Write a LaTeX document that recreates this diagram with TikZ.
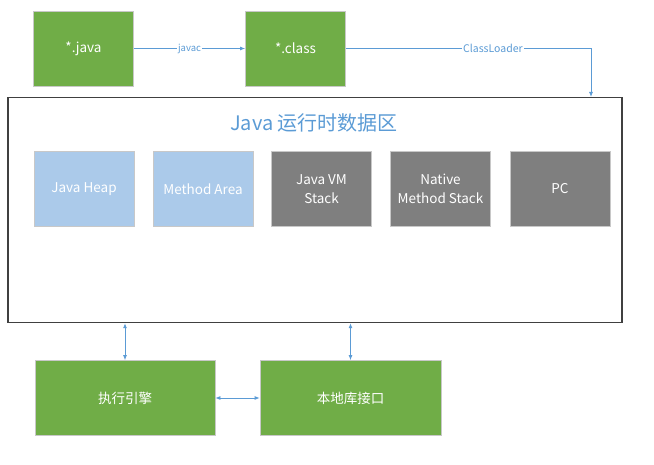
\documentclass[tikz,border=0pt]{standalone}
\usepackage{fontspec}
\setmainfont{Noto Sans CJK SC}
\usetikzlibrary{arrows.meta}
\definecolor{grn}{HTML}{70AD47}
\definecolor{lblue}{HTML}{ABCAEA}
\definecolor{gry}{HTML}{7F7F7F}
\definecolor{arr}{HTML}{5B9BD5}
\definecolor{frm}{HTML}{404040}
\definecolor{bord}{HTML}{C8C8C8}
\tikzset{
  box/.style={draw=bord, line width=0.8pt, minimum width=100pt, minimum height=75pt, inner sep=0pt, text=white, font=\fontsize{13.5}{19}\selectfont, align=center},
  gbox/.style={box, fill=grn},
  bbox/.style={box, fill=lblue},
  dbox/.style={box, fill=gry},
  conn/.style={draw=arr, line width=0.8pt, -{Latex[length=5pt,width=4pt]}},
  biconn/.style={draw=arr, line width=0.8pt, {Latex[length=5pt,width=4pt]}-{Latex[length=5pt,width=4pt]}},
  lbl/.style={fill=white, text=arr, inner sep=1pt}
}
\begin{document}
\begin{tikzpicture}[x=1pt,y=-1pt]
\useasboundingbox (0,0) rectangle (654,465);
\node[gbox] (java) at (83.5,48.5) {*.java};
\node[gbox] (class) at (295.5,48.5) {*.class};
\node[draw=frm, line width=1.5pt, minimum width=614pt, minimum height=225pt, inner sep=0pt] (frame) at (315,210) {};
\node[text=arr, font=\fontsize{20}{24}\selectfont] (title) at (314,123) {Java 运行时数据区};
\node[bbox] (heap) at (84,189) {Java Heap};
\node[bbox] (method) at (203,189) {Method Area};
\node[dbox] (vmstack) at (321.5,189) {Java VM\\Stack};
\node[dbox] (native) at (440.5,189) {Native\\Method Stack};
\node[dbox] (pc) at (560,189) {PC};
\node[gbox, minimum width=180pt] (engine) at (125,398) {执行引擎};
\node[gbox, minimum width=181pt] (lib) at (350.5,398) {本地库接口};
\draw[conn] (java) -- node[lbl, font=\fontsize{9.5}{11}\selectfont] {javac} (class);
\coordinate (cl) at (591,97);
\draw[conn] (class.east) -- node[lbl, pos=0.6, font=\fontsize{10.5}{12}\selectfont] {ClassLoader} (cl |- class.east) -- (cl);
\draw[biconn] (engine.north) -- (engine.north |- frame.south);
\draw[biconn] (lib.north) -- (lib.north |- frame.south);
\draw[biconn] (engine) -- (lib);
\end{tikzpicture}
\end{document}
